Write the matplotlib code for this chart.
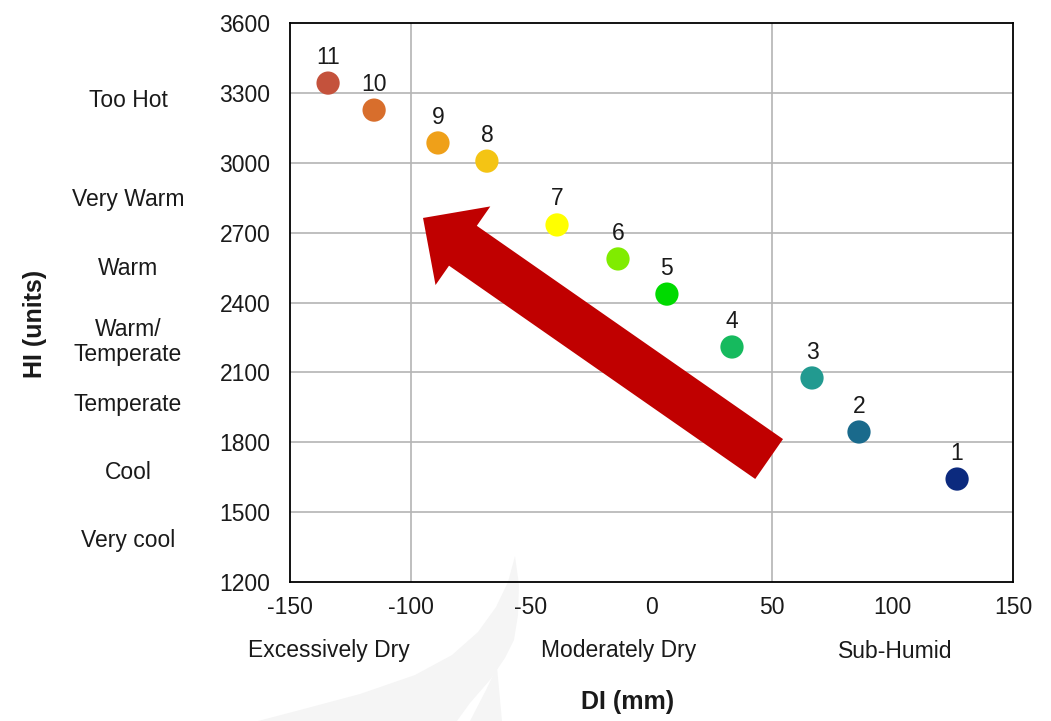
import matplotlib
matplotlib.use("Agg")
import matplotlib.pyplot as plt
import matplotlib.transforms as mtransforms
from matplotlib.patches import Polygon

plt.rcParams['font.family'] = ['Liberation Sans', 'DejaVu Sans']

# Climate classes: dryness index (DI, mm) vs heliothermal index (HI, units)
class_ids = ['1', '2', '3', '4', '5', '6', '7', '8', '9', '10', '11']
di_values = [126.8, 86.1, 66.6, 33.4, 6.4, -13.9, -39.2, -68.3, -88.6, -115.1, -134.2]
hi_values = [1642, 1844, 2076, 2209, 2436, 2587, 2733, 3007, 3085, 3226, 3342]
point_colors = ['#0C2A7E', '#1A6A8C', '#229A90', '#16BA5E', '#00DA00', '#80EC00',
                '#FFFF00', '#F4C414', '#EFA019', '#D86E2C', '#C4523C']

x_ticks = [-150, -100, -50, 0, 50, 100, 150]
y_ticks = [1200, 1500, 1800, 2100, 2400, 2700, 3000, 3300, 3600]

hi_classes = ['Too Hot', 'Very Warm', 'Warm', 'Warm/\nTemperate', 'Temperate', 'Cool', 'Very cool']
hi_class_pos = [3269, 2844, 2548, 2230, 1964, 1668, 1380]

di_classes = ['Excessively Dry', 'Moderately Dry', 'Sub-Humid']
di_class_pos = [-134, -13.5, 101]

# Trend arrow (from humid/cool towards dry/hot)
arrow_start = (48.8, 1728)
arrow_end = (-94.8, 2763)

W, H = 1051, 721
fig = plt.figure(figsize=(W / 100, H / 100), dpi=100)

# faint leaf-shaped background emblem (figure pixel coordinates, y downwards)
px = mtransforms.Affine2D().scale(1 / W, -1 / H).translate(0, 1) + fig.transFigure
leaf_a = [(515, 556), (519, 585), (518, 615), (514, 640), (505, 658), (490, 680),
          (470, 703), (457, 721), (258, 721), (300, 710), (360, 694), (415, 675),
          (452, 655), (478, 632), (496, 607), (508, 582)]
leaf_b = [(497, 667), (502, 721), (470, 721), (486, 690)]
for pts in (leaf_a, leaf_b):
    fig.patches.append(Polygon(pts, closed=True, transform=px, facecolor='#F5F5F5',
                               edgecolor='none', zorder=-1))

ax = fig.add_axes([290 / W, 1 - 582 / H, (1013 - 290) / W, (582 - 23) / H])
ax.set_facecolor('none')
ax.set_xlim(-150, 150)
ax.set_ylim(1200, 3600)
ax.set_xticks(x_ticks)
ax.set_yticks(y_ticks)
ax.set_xticklabels([str(v) for v in x_ticks])
ax.set_yticklabels([str(v) for v in y_ticks])
ax.tick_params(axis='both', length=0, labelsize=16.5, colors='#1A1A1A')
ax.tick_params(axis='y', pad=14)
ax.tick_params(axis='x', pad=10)

for s in ax.spines.values():
    s.set_color('black')
    s.set_linewidth(1.3)

# horizontal grid at every y tick, vertical grid only at class boundaries
for yv in y_ticks[1:-1]:
    ax.axhline(yv, color='#B4B4B4', lw=1.2, zorder=1)
for xv in (-100, 50):
    ax.axvline(xv, color='#B4B4B4', lw=1.2, zorder=1)

ax.scatter(di_values, hi_values, s=280, c=point_colors, edgecolors='none', zorder=4)
for lbl, xv, yv in zip(class_ids, di_values, hi_values):
    ax.annotate(lbl, (xv, yv), xytext=(0, 14), textcoords='offset points',
                ha='center', va='baseline', fontsize=16.5, color='#1A1A1A', zorder=5)

ax.annotate('', xy=arrow_end, xytext=arrow_start,
            arrowprops=dict(arrowstyle='simple,head_length=35,head_width=69,tail_width=35',
                            mutation_scale=1, facecolor='#C00000', edgecolor='none',
                            shrinkA=0, shrinkB=0),
            zorder=3)

# class names along the axes
ytr = mtransforms.blended_transform_factory(fig.transFigure, ax.transData)
for name, yv in zip(hi_classes, hi_class_pos):
    ax.text(128 / W, yv, name, transform=ytr, ha='center', va='center',
            fontsize=16.5, color='#1A1A1A', linespacing=1.12, clip_on=False)

xtr = mtransforms.blended_transform_factory(ax.transData, fig.transFigure)
for name, xv in zip(di_classes, di_class_pos):
    ax.text(xv, 1 - 651 / H, name, transform=xtr, ha='center', va='center',
            fontsize=16.5, color='#1A1A1A', clip_on=False)

fig.text(35 / W, 1 - 324 / H, 'HI (units)', rotation=90, ha='center', va='center',
         fontsize=18, fontweight='bold', color='#1A1A1A')
fig.text(628 / W, 1 - 702 / H, 'DI (mm)', ha='center', va='center',
         fontsize=18, fontweight='bold', color='#1A1A1A')

fig.savefig('out.png', dpi=100)
